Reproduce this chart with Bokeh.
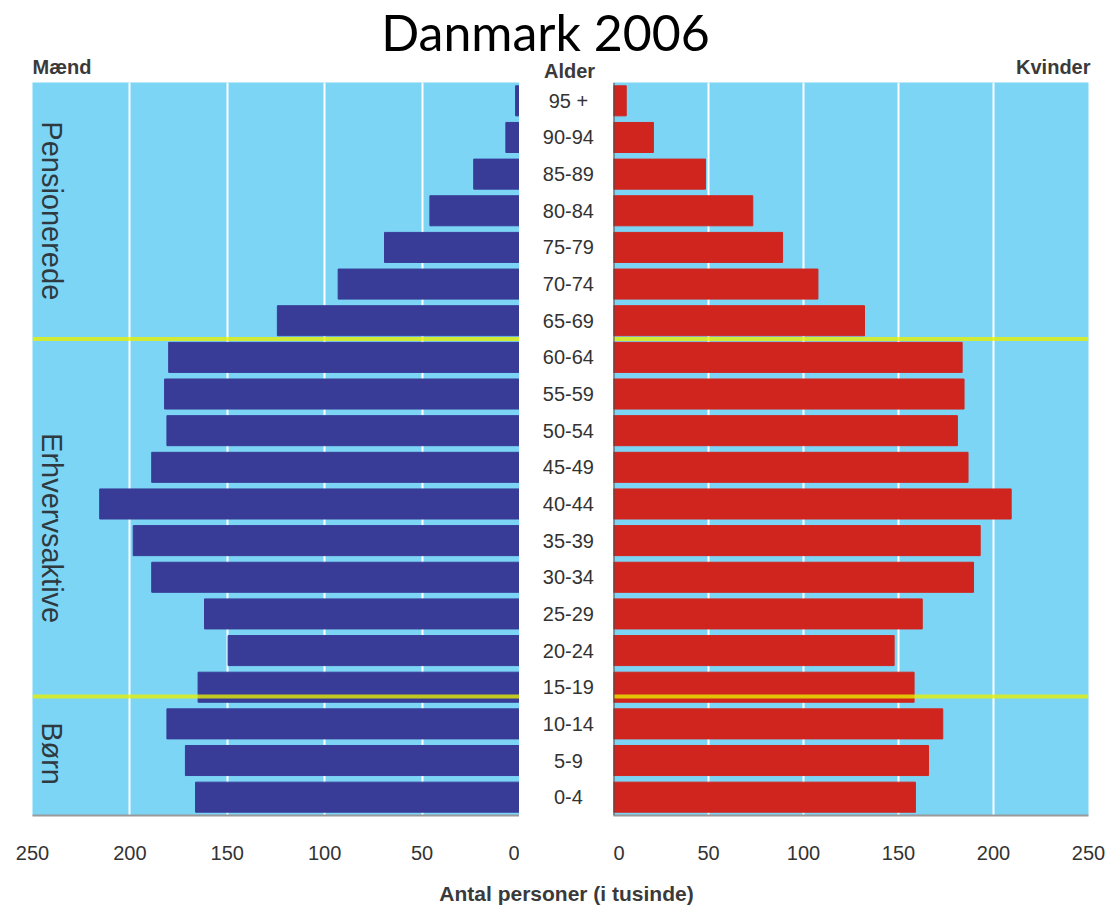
import math
from bokeh.plotting import figure
from bokeh.layouts import column, row
from bokeh.models import ColumnDataSource, Range1d, FixedTicker, Span, Label
from bokeh.core.properties import value
from bokeh.embed import file_html
from bokeh.resources import INLINE

# ---------------- data ----------------
ages = ["0-4", "5-9", "10-14", "15-19", "20-24", "25-29", "30-34", "35-39",
        "40-44", "45-49", "50-54", "55-59", "60-64", "65-69", "70-74",
        "75-79", "80-84", "85-89", "90-94", "95 +"]
men = [166.3, 171.5, 181.0, 165.0, 149.6, 161.7, 188.8, 198.3, 215.5, 188.8,
       181.0, 182.2, 180.1, 124.3, 93.1, 69.3, 46.0, 23.5, 7.0, 2.0]
women = [158.9, 165.8, 173.3, 158.2, 147.7, 162.5, 189.5, 193.0, 209.3, 186.6,
         181.0, 184.5, 183.5, 132.1, 107.6, 89.0, 73.3, 48.4, 21.0, 6.7]
ticks = [0, 50, 100, 150, 200, 250]
grid_ticks = [50, 100, 150, 200]
title_text = "Danmark 2006"
men_label = "Mænd"
women_label = "Kvinder"
age_label = "Alder"
x_label = "Antal personer (i tusinde)"
groups = ["Pensionerede", "Erhvervsaktive", "Børn"]
group_centers = [16.0, 7.34, 1.19]
boundaries = [12.5, 2.75]

# ---------------- style ----------------
FONT = "Liberation Sans"
BG = "#7dd5f6"
BLUE = "#383c97"
RED = "#d0251e"
YELLOW = "#e8f000"
TXT = "#333333"
HEAD = "#3a3a3a"
W = 1115

src = ColumnDataSource(dict(row=list(range(len(ages))), age=ages, men=men, women=women))
yr = Range1d(-0.5, len(ages) - 0.5)

TOP_H = 82          # header strip (title + panel headings)
FRAME_H = 733
BOT = 56
H = FRAME_H + BOT
BOTTOM_H = 907 - TOP_H - H


def style_panel(p):
    ax = p.xaxis[0]
    ax.ticker = FixedTicker(ticks=ticks)
    ax.major_tick_out = 0
    ax.major_tick_in = 0
    ax.minor_tick_out = 0
    ax.minor_tick_in = 0
    ax.major_label_standoff = 30
    ax.major_label_text_font = FONT
    ax.major_label_text_font_size = "20px"
    ax.major_label_text_color = TXT
    ax.axis_line_color = "#9a9a9a"
    ax.axis_line_width = 2
    p.xgrid.ticker = FixedTicker(ticks=grid_ticks)
    p.xgrid.grid_line_color = "white"
    p.xgrid.grid_line_width = 2
    p.ygrid.visible = False
    for b in boundaries:
        p.add_layout(Span(location=b, dimension="width", line_color=YELLOW,
                          line_alpha=0.78, line_width=4))


# header strip: title and panel headings
top = figure(width=W, height=TOP_H, x_range=Range1d(0, W), y_range=Range1d(0, TOP_H),
             output_backend="svg", toolbar_location=None, min_border=0,
             x_axis_location=None, y_axis_location=None, outline_line_color=None)
top.grid.visible = False
top.text(x=[545], y=[TOP_H - 31], text=[title_text], text_align="center",
         text_baseline="middle", text_font=value("Lato"),
         text_font_size="50px", text_color="black")
top.text(x=[32], y=[TOP_H - 66], text=[men_label], text_align="left",
         text_baseline="middle", text_font=value(FONT), text_font_size="20px",
         text_font_style="bold", text_color=HEAD)
top.text(x=[1090], y=[TOP_H - 66], text=[women_label], text_align="right",
         text_baseline="middle", text_font=value(FONT), text_font_size="20px",
         text_font_style="bold", text_color=HEAD)
top.text(x=[569], y=[TOP_H - 70], text=[age_label], text_align="center",
         text_baseline="middle", text_font=value(FONT), text_font_size="20px",
         text_font_style="bold", text_color=HEAD)

# left panel (men)
left = figure(width=519, height=H, x_range=Range1d(250, 0), y_range=yr,
              output_backend="svg", toolbar_location=None,
              min_border_left=32, min_border_right=0, min_border_top=0,
              min_border_bottom=BOT, y_axis_location=None,
              background_fill_color=BG, outline_line_color=None)
left.hbar(y="row", left=0, right="men", height=0.82, color=BLUE, source=src)
style_panel(left)
for g, c in zip(groups, group_centers):
    left.add_layout(Label(x=250, y=c, x_offset=19, text=g, angle=-math.pi / 2,
                          text_align="center", text_baseline="middle",
                          text_font=FONT, text_font_size="29px",
                          text_color="#2e3a40"))

# middle column (age labels)
mid = figure(width=94, height=H, x_range=Range1d(0, 1), y_range=yr,
             output_backend="svg", toolbar_location=None,
             min_border_left=0, min_border_right=0, min_border_top=0,
             min_border_bottom=BOT, x_axis_location=None, y_axis_location=None,
             outline_line_color=None)
mid.grid.visible = False
mid.text(x=0.52, y="row", text="age", source=src, text_align="center",
         text_baseline="middle", text_font=value(FONT), text_font_size="20px",
         text_color=TXT)

# right panel (women)
right = figure(width=W - 519 - 94, height=H, x_range=Range1d(0, 250), y_range=yr,
               output_backend="svg", toolbar_location=None,
               min_border_left=0, min_border_right=27, min_border_top=0,
               min_border_bottom=BOT, y_axis_location=None,
               background_fill_color=BG, outline_line_color=None)
right.hbar(y="row", left=0, right="women", height=0.82, color=RED, source=src)
style_panel(right)
right.add_layout(Span(location=0, dimension="height", line_color="#4a4a4a",
                      line_width=2))

# bottom axis label
bottom = figure(width=W, height=BOTTOM_H, x_range=Range1d(0, W),
                y_range=Range1d(0, BOTTOM_H),
                output_backend="svg", toolbar_location=None, min_border=0,
                x_axis_location=None, y_axis_location=None, outline_line_color=None)
bottom.grid.visible = False
bottom.text(x=[566], y=[BOTTOM_H - 22], text=[x_label], text_align="center",
            text_baseline="middle", text_font=value(FONT), text_font_size="21px",
            text_font_style="bold", text_color=HEAD)

layout = column(top, row(left, mid, right), bottom)
open("out.html", "w").write(file_html(layout, INLINE))
